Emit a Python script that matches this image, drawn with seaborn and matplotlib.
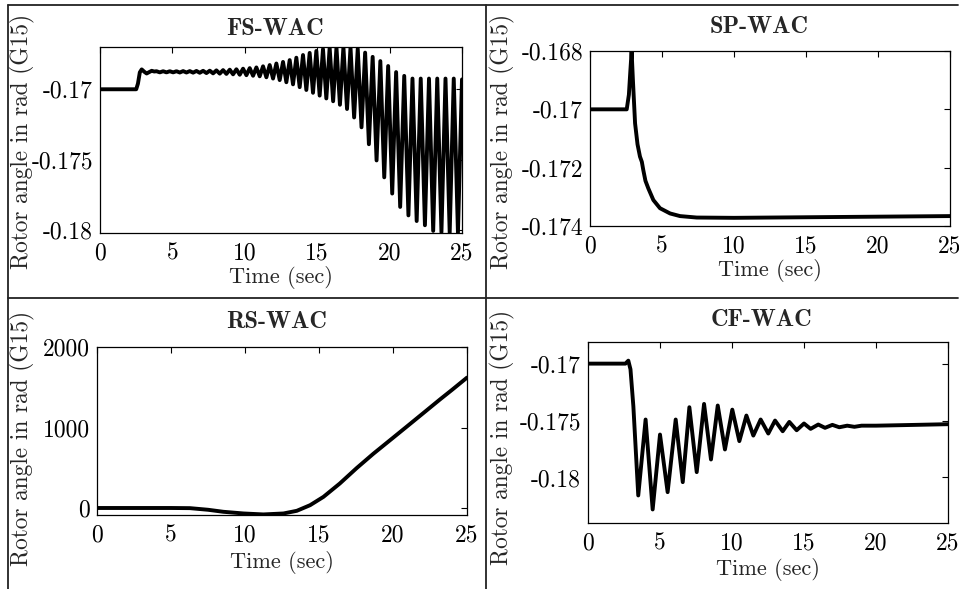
import numpy as np
import pandas as pd
import matplotlib
matplotlib.use("Agg")
import matplotlib.pyplot as plt
from matplotlib.lines import Line2D
import seaborn as sns

# ---------------- data ----------------
titles = ["FS-WAC", "SP-WAC", "RS-WAC", "CF-WAC"]
x_label = "Time (sec)"
y_label = "Rotor angle in rad (G15)"
x_ticks = [0, 5, 10, 15, 20, 25]

# FS-WAC: start-up part, then oscillation tops and bottoms
fs_start_t = [0.0, 2.50, 2.62, 2.75, 2.88, 3.05, 3.22, 3.40, 3.57, 3.75]
fs_start_v = [-0.17000, -0.17000, -0.16960, -0.16880, -0.16859, -0.16875, -0.16888, -0.16878, -0.16869, -0.16874]
fs_top_t = [3.90, 4.36, 4.82, 5.28, 5.74, 6.20, 6.66, 7.12, 7.58, 8.04, 8.50, 8.96, 9.42,
            9.88, 10.34, 10.80, 11.26, 11.72, 12.18, 12.64, 13.10, 13.56, 14.02, 14.48,
            14.94, 15.40, 15.86, 16.33, 16.81, 17.30, 17.80, 18.31, 18.83, 19.36, 19.90,
            20.45, 21.01, 21.58, 22.15, 22.72, 23.29, 23.86, 24.43, 25.00]
fs_top_v = [-0.16872, -0.16872, -0.16872, -0.16872, -0.16871, -0.16871, -0.16870, -0.16869,
            -0.16868, -0.16866, -0.16864, -0.16861, -0.16858, -0.16854, -0.16850, -0.16845,
            -0.16837, -0.16828, -0.16817, -0.16806, -0.16793, -0.16776, -0.16757, -0.16742,
            -0.16728, -0.16715, -0.16705, -0.16702, -0.16701, -0.16703, -0.16712, -0.16740,
            -0.16770, -0.16800, -0.16835, -0.16878, -0.16905, -0.16924, -0.16924, -0.16924,
            -0.16924, -0.16924, -0.16924, -0.16930]
fs_bot_t = [4.13, 4.59, 5.05, 5.51, 5.97, 6.43, 6.89, 7.35, 7.81, 8.27, 8.73, 9.19, 9.65,
            10.11, 10.57, 11.03, 11.49, 11.95, 12.41, 12.87, 13.33, 13.79, 14.25, 14.71,
            15.17, 15.63, 16.10, 16.57, 17.06, 17.55, 18.06, 18.57, 19.10, 19.63, 20.18,
            20.73, 21.30, 21.87, 22.44, 23.01, 23.58, 24.15, 24.72]
fs_bot_v = [-0.16880, -0.16880, -0.16880, -0.16881, -0.16881, -0.16882, -0.16883, -0.16885,
            -0.16887, -0.16889, -0.16891, -0.16894, -0.16897, -0.16900, -0.16904, -0.16908,
            -0.16915, -0.16924, -0.16935, -0.16950, -0.16965, -0.16985, -0.17005, -0.17025,
            -0.17045, -0.17065, -0.17085, -0.17110, -0.17140, -0.17200, -0.17270, -0.17390,
            -0.17505, -0.17625, -0.17740, -0.17835, -0.17895, -0.17935, -0.17965, -0.18005,
            -0.18015, -0.18018, -0.18018]
fs_yticks = [-0.18, -0.175, -0.17]
fs_yticklabels = ["-0.18", "-0.175", "-0.17"]

# SP-WAC
sp_t = [0.0, 2.55, 2.70, 2.80, 2.89, 2.98, 3.13, 3.30, 3.47, 3.60, 3.70, 3.85, 4.05, 4.40,
        4.86, 5.56, 6.25, 7.41, 10.0, 15.0, 20.0, 25.0]
sp_v = [-0.17000, -0.17000, -0.16950, -0.16870, -0.16802, -0.16900, -0.17048, -0.17120,
        -0.17162, -0.17180, -0.17208, -0.17245, -0.17271, -0.17311, -0.17339, -0.17357,
        -0.17366, -0.17371, -0.17372, -0.17370, -0.17368, -0.17366]
sp_yticks = [-0.174, -0.172, -0.17, -0.168]
sp_yticklabels = ["-0.174", "-0.172", "-0.17", "-0.168"]

# RS-WAC
rs_t = [0.0, 5.0, 6.28, 7.5, 8.53, 9.9, 11.24, 12.6, 13.5, 14.4, 15.3, 16.4, 17.55, 18.67,
        19.98, 20.93, 22.05, 23.18, 24.0, 25.0]
rs_v = [2, 2, 0, -20, -45, -66, -78, -66, -33, 37, 140, 305, 498, 675, 870, 1012, 1180,
        1350, 1470, 1620]
rs_yticks = [0, 1000, 2000]
rs_yticklabels = ["0", "1000", "2000"]

# CF-WAC
cf_t = [0.0, 2.60, 2.80, 2.95, 3.15, 3.49, 4.00, 4.49, 5.00, 5.53, 6.09, 6.58, 7.04, 7.55,
        8.06, 8.54, 9.01, 9.51, 10.02, 10.51, 11.00, 11.48, 11.99, 12.52, 12.99, 13.52,
        13.98, 14.49, 15.00, 15.46, 15.99, 16.46, 16.97, 17.45, 18.0, 18.5, 19.0, 20.0,
        22.0, 25.0]
cf_v = [-0.17000, -0.17000, -0.16974, -0.17050, -0.17374, -0.18158, -0.17491, -0.18281,
        -0.17623, -0.18129, -0.17491, -0.18041, -0.17383, -0.17953, -0.17354, -0.17842,
        -0.17368, -0.17754, -0.17404, -0.17681, -0.17456, -0.17632, -0.17491, -0.17614,
        -0.17500, -0.17594, -0.17512, -0.17585, -0.17526, -0.17573, -0.17535, -0.17564,
        -0.17538, -0.17559, -0.17545, -0.17555, -0.17545, -0.17545, -0.17540, -0.17532]
cf_yticks = [-0.18, -0.175, -0.17]
cf_yticklabels = ["-0.18", "-0.175", "-0.17"]

# ---------------- build tables ----------------
fs_df = pd.DataFrame({"t": fs_start_t + fs_top_t + fs_bot_t,
                      "v": fs_start_v + fs_top_v + fs_bot_v}).sort_values("t")
sp_df = pd.DataFrame({"t": sp_t, "v": sp_v})
rs_df = pd.DataFrame({"t": rs_t, "v": rs_v})
cf_df = pd.DataFrame({"t": cf_t, "v": cf_v})

# ---------------- style ----------------
sns.set_theme(style="white")
plt.rcParams["font.family"] = ["cmr10", "DejaVu Serif"]
plt.rcParams["axes.unicode_minus"] = False
plt.rcParams["axes.formatter.use_mathtext"] = True

W, H = 959, 589
fig = plt.figure(figsize=(W / 100, H / 100), dpi=100)

def rect(l, r, t, b):
    return [l / W, 1 - b / H, (r - l) / W, (b - t) / H]

# (data, rect, ylim, yticks, yticklabels, title x, title y, ylabel x, ylabel y, xlabel pad)
panels = [
    (fs_df, rect(100, 462, 47, 233), (-0.1802, -0.1670), fs_yticks, fs_yticklabels,
     0.483, 1.0645, -0.180, 0.49, 1),
    (sp_df, rect(590, 950, 51, 226), (-0.174, -0.168), sp_yticks, sp_yticklabels,
     0.469, 1.103, -0.208, 0.486, 1),
    (rs_df, rect(97, 467, 347, 515), (-85, 2000), rs_yticks, rs_yticklabels,
     0.486, 1.113, -0.168, 0.458, 3),
    (cf_df, rect(588, 948, 342, 523), (-0.1840, -0.1681), cf_yticks, cf_yticklabels,
     0.483, 1.088, -0.203, 0.47, 2),
]

for (df, pos, ylim, yt, ytl, tx, ty, lx, ly, xpad), title in zip(panels, titles):
    ax = fig.add_axes(pos)
    sns.lineplot(data=df, x="t", y="v", ax=ax, color="black", lw=2.8,
                 sort=False, estimator=None, solid_joinstyle="round",
                 solid_capstyle="round")
    ax.set_xlim(0, 25)
    ax.set_ylim(*ylim)
    ax.set_xticks(x_ticks)
    ax.set_xticklabels([str(v) for v in x_ticks])
    ax.set_yticks(yt)
    ax.set_yticklabels(ytl)
    ax.tick_params(direction="in", top=True, right=True, length=4, width=0.8,
                   labelsize=17, colors="black")
    ax.tick_params(axis="x", pad=7)
    ax.tick_params(axis="y", pad=5)
    for s in ax.spines.values():
        s.set_color("black")
        s.set_linewidth(0.9)
    ax.set_xlabel(x_label, fontsize=16, labelpad=xpad)
    ax.set_ylabel(y_label, fontsize=16.8)
    ax.yaxis.set_label_coords(lx, ly)
    ax.set_title(title, fontsize=17.5, fontfamily="cmb10", x=tx, y=ty, pad=0)

# panel frames
def fline(x0, y0, x1, y1):
    fig.add_artist(Line2D([x0 / W, x1 / W], [1 - y0 / H, 1 - y1 / H],
                          transform=fig.transFigure, color="#222222", lw=1.3))

fline(8, 5, 8, 589)
fline(8, 5, 958, 5)
fline(486, 5, 486, 589)
fline(8, 298, 958, 298)

fig.savefig("out.png", dpi=100)
